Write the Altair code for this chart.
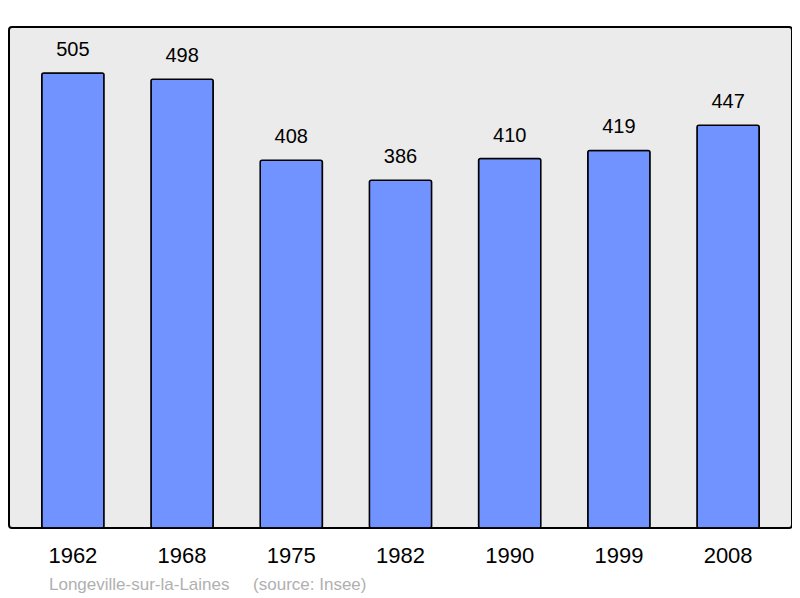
import altair as alt
import pandas as pd

years = ["1962", "1968", "1975", "1982", "1990", "1999", "2008"]
population = [505, 498, 408, 386, 410, 419, 447]

df = pd.DataFrame({"year": years, "pop": population})

FONT = "Liberation Sans"

x = alt.X("year:N", sort=years, title=None,
          scale=alt.Scale(paddingInner=0.43, paddingOuter=0.3),
          axis=alt.Axis(labelAngle=0, labelFontSize=22, labelColor="black",
                        labelFont=FONT, ticks=False, domain=False,
                        labelPadding=17, grid=False))
y = alt.Y("pop:Q", title=None,
          scale=alt.Scale(domain=[0, 556], nice=False, zero=True),
          axis=None)

bars = alt.Chart(df).mark_bar(
    color="#7093ff", stroke="black", strokeWidth=1.5, cornerRadius=2
).encode(x=x, y=y)

labels = alt.Chart(df).mark_text(
    baseline="bottom", dy=-13, fontSize=20, font=FONT, color="black"
).encode(x=x, y=y, text="pop:Q")

chart = alt.layer(bars, labels).properties(
    width=783,
    height=501,
    autosize=alt.AutoSizeParams(type="none"),
    padding={"left": 1, "top": 19, "right": 0, "bottom": 72},
    title=alt.TitleParams(
        "Longeville-sur-la-Laines" + "\u00a0" * 5 + "(source: Insee)",
        orient="bottom", anchor="start", dx=40, offset=11,
        fontSize=17, font=FONT, fontWeight="normal", color="#b0b0b0",
    ),
).configure_view(
    fill="#ebebeb", stroke="black", strokeWidth=2, cornerRadius=3
)

chart.save("out.html", embed_options={"renderer": "svg", "actions": False})
